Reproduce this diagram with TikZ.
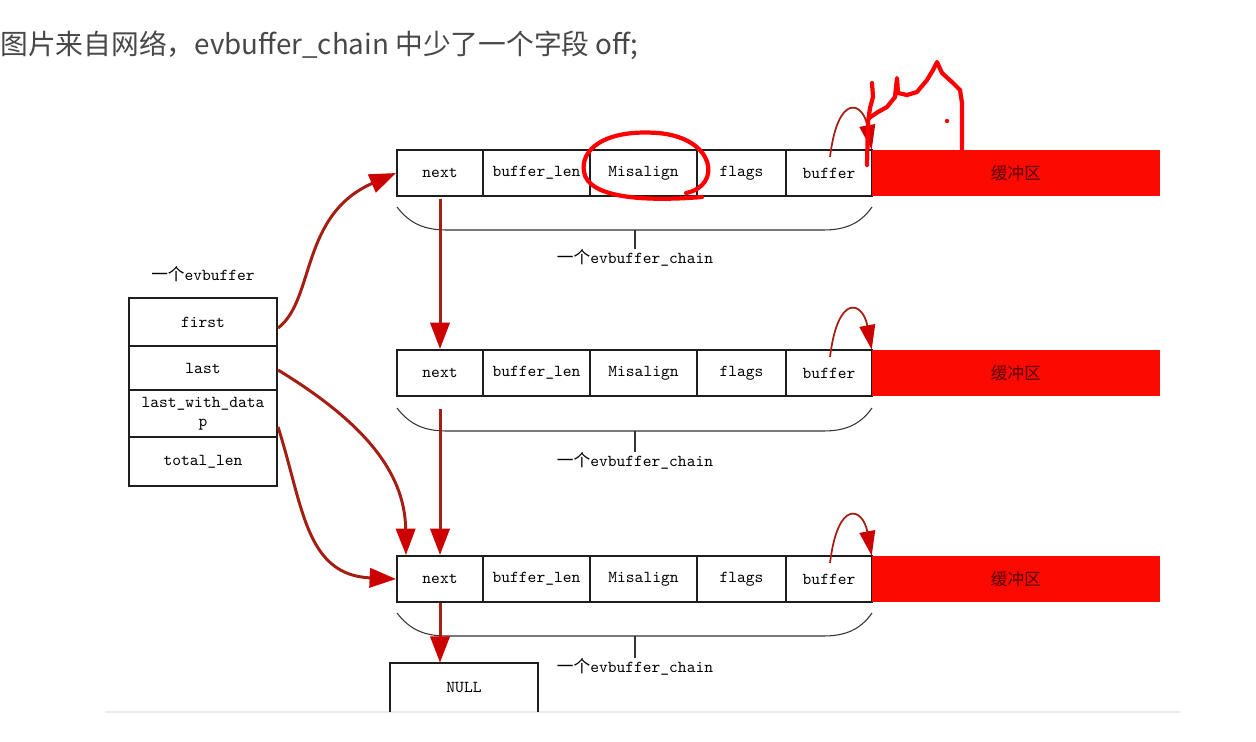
\documentclass[tikz,border=0pt]{standalone}
\usepackage{fontspec}
\newfontfamily\cjk{Noto Sans CJK SC}
\usetikzlibrary{arrows.meta,calc}
\definecolor{arrowline}{RGB}{165,30,20}
\definecolor{arrowhead}{RGB}{205,0,0}
\definecolor{bufred}{RGB}{250,10,0}
\definecolor{titlegray}{RGB}{72,72,72}
\definecolor{bordergray}{RGB}{30,30,30}
\begin{document}
\begin{tikzpicture}[x=0.02cm,y=-0.02cm,
  cell/.style={draw=bordergray,line width=1.2pt,inner sep=0pt,font=\ttfamily\fontsize{9.5}{11}\selectfont},
  bufbox/.style={fill=bufred,draw=none,inner sep=0pt,text=red!35!black,font=\cjk\fontsize{9.5}{11}\selectfont},
  ptr/.style={draw=arrowline,line width=1.7pt,-{Triangle[length=15pt,width=11pt,color=arrowhead]}},
  selfptr/.style={draw=arrowline,line width=1pt,-{Triangle[length=14pt,width=9pt,color=arrowhead]}},
  brace/.style={draw=black!80,line width=0.6pt},
  lbl/.style={inner sep=0pt,font=\ttfamily\fontsize{9.5}{11}\selectfont},
  scribble/.style={draw=red,line width=2.4pt,line cap=round,line join=round}]
\useasboundingbox (0,0) rectangle (1256,741);
\fill[white] (0,0) rectangle (1256,741);
% title
\node[anchor=west,inner sep=0pt,text=titlegray,font=\cjk\fontsize{15.8}{18}\selectfont] (title) at (0,45) {图片来自网络，evbuffer\_chain 中少了一个字段 off;};
% bottom faint edge
\draw[black!8,line width=0.8pt] (105,712) -- (1180,712);

% evbuffer
\node[lbl] (evlabel) at (203,274) {{\cjk 一个}evbuffer};
\node[cell,minimum width=2.96cm,minimum height=0.96cm] (first) at (203,322) {first};
\node[cell,minimum width=2.96cm,minimum height=0.88cm] (last) at (203,368) {last};
\node[cell,minimum width=2.96cm,minimum height=0.94cm,align=center] (lwd) at (203,413.5) {last\_with\_data\\p};
\node[cell,minimum width=2.96cm,minimum height=0.98cm] (total) at (203,461.5) {total\_len};

% chains
\foreach \r/\t in {1/150,2/350,3/556}{
  \node[cell,minimum width=1.72cm,minimum height=0.92cm] (next\r) at (440,\t+23) {next};
  \node[cell,minimum width=2.14cm,minimum height=0.92cm] (blen\r) at (536.5,\t+23) {buffer\_len};
  \node[cell,minimum width=2.14cm,minimum height=0.92cm] (mis\r) at (643.5,\t+23) {Misalign};
  \node[cell,minimum width=1.78cm,minimum height=0.92cm] (flags\r) at (741.5,\t+23) {flags};
  \node[cell,minimum width=1.72cm,minimum height=0.92cm] (buf\r) at (829,\t+23) {buffer};
  \node[bufbox,minimum width=5.76cm,minimum height=0.92cm] (mem\r) at (1016,\t+23) {缓冲区};
  \draw[selfptr] ($(buf\r.north)+(1,8)$) .. controls ($(buf\r.north)+(9,-57)$) and ($(buf\r.north)+(34,-47)$) .. (mem\r.north west);
}
% braces
\foreach \r/\y/\lab in {1/207/258,2/408/461,3/613/667}{
  \draw[brace] (397,\y) .. controls (410,\y+17) and (425,\y+23) .. (447,\y+23) -- (823,\y+23) .. controls (845,\y+23) and (860,\y+17) .. (872,\y);
  \draw[brace] (635,\y+23) -- (635,\lab-9);
  \node[lbl] (cl\r) at (635,\lab) {{\cjk 一个}evbuffer\_chain};
}

% NULL box
\node[inner sep=0pt,minimum width=2.96cm,minimum height=0.98cm,font=\ttfamily\fontsize{9.5}{11}\selectfont] (null) at (464,687.5) {NULL};
\draw[bordergray,line width=1.2pt] (null.south west) -- (null.north west) -- (null.north east) -- (null.south east);

% pointers
\draw[ptr] ([yshift=-0.12cm]first.east) .. controls (315,300) and (300,215) .. (next1.west);
\draw[ptr] ([yshift=-0.04cm]last.east) .. controls (360,420) and (405,470) .. ([xshift=0.2cm]next3.north west);
\draw[ptr] ([yshift=-0.27cm]lwd.east) .. controls (303,505) and (305,575) .. (next3.west);
\draw[ptr] ([yshift=-0.04cm]next1.south) -- (next2.north);
\draw[ptr] ([yshift=-0.24cm]next2.south) -- (next3.north);
\draw[ptr] (next3.south) -- (next3.south |- null.north);

% hand-drawn annotations
\draw[scribble] (686,193) .. controls (722,186) and (716,138) .. (658,133)
  .. controls (604,129) and (580,150) .. (584,172)
  .. controls (588,197) and (640,202) .. (702,197);
\draw[scribble] (867,165) -- (868,122) -- (870,108) -- (873,97) -- (872,83);
\draw[scribble] (869,118) -- (878,112) -- (887,107) -- (895,97) -- (897,78) -- (898,93) -- (907,95) -- (917,92) -- (927,80) -- (933,70) -- (937,62) -- (942,73) -- (953,83) -- (960,90) -- (962,103) -- (962,150);
\fill[red] (947,121) circle (2.2);
\end{tikzpicture}
\end{document}
